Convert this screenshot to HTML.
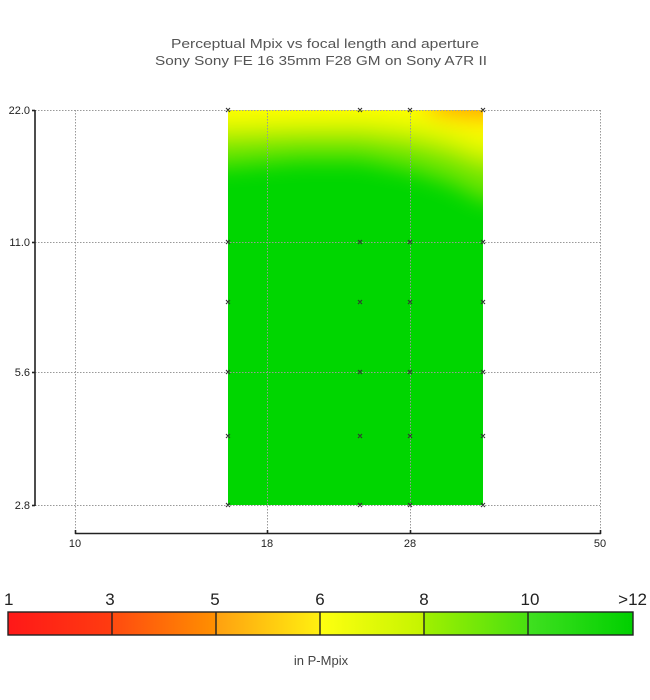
<!DOCTYPE html>
<html><head><meta charset="utf-8"><style>
html,body{margin:0;padding:0;background:#fff;}
svg{display:block;}
text{font-family:"Liberation Sans","DejaVu Sans",sans-serif;}
</style></head><body>
<svg width="650" height="700" viewBox="0 0 650 700" xmlns="http://www.w3.org/2000/svg">
<defs>
  <clipPath id="hm"><rect x="228" y="110" width="255" height="395"/></clipPath>
  <filter id="bl" x="-20%" y="-20%" width="140%" height="140%"><feGaussianBlur stdDeviation="11"/></filter>
  <linearGradient id="g1" x1="0" x2="1" y1="0" y2="0"><stop offset="0" stop-color="#ff1818"/><stop offset="1" stop-color="#ff3c10"/></linearGradient>
  <linearGradient id="g2" x1="0" x2="1" y1="0" y2="0"><stop offset="0" stop-color="#ff4a10"/><stop offset="1" stop-color="#ff9000"/></linearGradient>
  <linearGradient id="g3" x1="0" x2="1" y1="0" y2="0"><stop offset="0" stop-color="#ffa010"/><stop offset="1" stop-color="#fff010"/></linearGradient>
  <linearGradient id="g4" x1="0" x2="1" y1="0" y2="0"><stop offset="0" stop-color="#ffff10"/><stop offset="1" stop-color="#c4f400"/></linearGradient>
  <linearGradient id="g5" x1="0" x2="1" y1="0" y2="0"><stop offset="0" stop-color="#a0f000"/><stop offset="1" stop-color="#48e010"/></linearGradient>
  <linearGradient id="g6" x1="0" x2="1" y1="0" y2="0"><stop offset="0" stop-color="#40e020"/><stop offset="1" stop-color="#00d000"/></linearGradient>
</defs>

<!-- title -->
<text x="325" y="48" font-size="13" fill="#555" text-anchor="middle" textLength="308" lengthAdjust="spacingAndGlyphs">Perceptual Mpix vs focal length and aperture</text>
<text x="321" y="65" font-size="13" fill="#555" text-anchor="middle" textLength="332" lengthAdjust="spacingAndGlyphs">Sony Sony FE 16 35mm F28 GM on Sony A7R II</text>

<!-- heatmap -->
<g clip-path="url(#hm)">
  <rect x="228" y="110" width="255" height="395" fill="#00d600"/>
  <g filter="url(#bl)">
    <path d="M180,50 L540,50 L540,205 L483,200 L450,183 L410,170 L360,160 L300,160 L228,166 L180,168 Z" fill="#70e600"/>
    <path d="M180,50 L540,50 L540,165 L483,163 L450,150 L410,140 L360,134 L300,134 L228,137 L180,138 Z" fill="#d8f600"/>
    <path d="M180,50 L540,50 L540,145 L483,142 L440,127 L400,120 L360,118 L228,120 L180,120 Z" fill="#ffff00"/>
    <ellipse cx="492" cy="104" rx="68" ry="17" fill="#ffaa00"/>
  </g>
</g>

<!-- grid -->
<g stroke="#999" stroke-width="1" stroke-dasharray="1.5,1.5" fill="none">
  <line x1="35" y1="110.5" x2="600" y2="110.5"/>
  <line x1="35" y1="242.5" x2="600" y2="242.5"/>
  <line x1="35" y1="372.5" x2="600" y2="372.5"/>
  <line x1="35" y1="505.5" x2="600" y2="505.5"/>
  <line x1="75.5" y1="110" x2="75.5" y2="533"/>
  <line x1="267.5" y1="110" x2="267.5" y2="533"/>
  <line x1="410.5" y1="110" x2="410.5" y2="533"/>
  <line x1="600.5" y1="110" x2="600.5" y2="533"/>
</g>

<!-- axes -->
<g stroke="#222" stroke-width="1.6" fill="none">
  <line x1="35" y1="110" x2="35" y2="506"/>
  <line x1="32" y1="110.5" x2="35" y2="110.5"/>
  <line x1="32" y1="242.5" x2="35" y2="242.5"/>
  <line x1="32" y1="372.5" x2="35" y2="372.5"/>
  <line x1="32" y1="505.5" x2="35" y2="505.5"/>
  <line x1="75" y1="533.5" x2="601" y2="533.5"/>
  <line x1="75.5" y1="530" x2="75.5" y2="534"/>
  <line x1="267.5" y1="530" x2="267.5" y2="534"/>
  <line x1="410.5" y1="530" x2="410.5" y2="534"/>
  <line x1="600.5" y1="530" x2="600.5" y2="534"/>
</g>
<g font-size="11" fill="#222" text-anchor="end">
  <text x="30" y="114">22.0</text>
  <text x="30" y="246">11.0</text>
  <text x="30" y="376">5.6</text>
  <text x="30" y="509">2.8</text>
</g>
<g font-size="11" fill="#222" text-anchor="middle">
  <text x="75" y="547">10</text>
  <text x="267" y="547">18</text>
  <text x="410" y="547">28</text>
  <text x="600" y="547">50</text>
</g>

<!-- markers -->
<g stroke="#333" stroke-width="1.1">
  <path d="M226,108l4,4m0,-4l-4,4 M358,108l4,4m0,-4l-4,4 M408,108l4,4m0,-4l-4,4 M481,108l4,4m0,-4l-4,4"/>
  <path d="M226,240l4,4m0,-4l-4,4 M358,240l4,4m0,-4l-4,4 M408,240l4,4m0,-4l-4,4 M481,240l4,4m0,-4l-4,4"/>
  <path d="M226,300l4,4m0,-4l-4,4 M358,300l4,4m0,-4l-4,4 M408,300l4,4m0,-4l-4,4 M481,300l4,4m0,-4l-4,4"/>
  <path d="M226,370l4,4m0,-4l-4,4 M358,370l4,4m0,-4l-4,4 M408,370l4,4m0,-4l-4,4 M481,370l4,4m0,-4l-4,4"/>
  <path d="M226,434l4,4m0,-4l-4,4 M358,434l4,4m0,-4l-4,4 M408,434l4,4m0,-4l-4,4 M481,434l4,4m0,-4l-4,4"/>
  <path d="M226,503l4,4m0,-4l-4,4 M358,503l4,4m0,-4l-4,4 M408,503l4,4m0,-4l-4,4 M481,503l4,4m0,-4l-4,4"/>
</g>

<!-- colorbar -->
<rect x="8" y="612" width="104" height="23" fill="url(#g1)"/>
<rect x="112" y="612" width="104" height="23" fill="url(#g2)"/>
<rect x="216" y="612" width="104" height="23" fill="url(#g3)"/>
<rect x="320" y="612" width="104" height="23" fill="url(#g4)"/>
<rect x="424" y="612" width="104" height="23" fill="url(#g5)"/>
<rect x="528" y="612" width="105" height="23" fill="url(#g6)"/>
<g stroke="#222" stroke-width="1.4" fill="none">
  <rect x="8" y="612" width="625" height="23"/>
  <line x1="112" y1="612" x2="112" y2="635"/>
  <line x1="216" y1="612" x2="216" y2="635"/>
  <line x1="320" y1="612" x2="320" y2="635"/>
  <line x1="424" y1="612" x2="424" y2="635"/>
  <line x1="528" y1="612" x2="528" y2="635"/>
</g>
<g font-size="17" fill="#222">
  <text x="4" y="605">1</text>
  <text x="110" y="605" text-anchor="middle">3</text>
  <text x="215" y="605" text-anchor="middle">5</text>
  <text x="320" y="605" text-anchor="middle">6</text>
  <text x="424" y="605" text-anchor="middle">8</text>
  <text x="530" y="605" text-anchor="middle">10</text>
  <text x="647" y="605" text-anchor="end">&gt;12</text>
</g>
<text x="321" y="665" font-size="13" fill="#444" text-anchor="middle">in P-Mpix</text>
</svg>
</body></html>
